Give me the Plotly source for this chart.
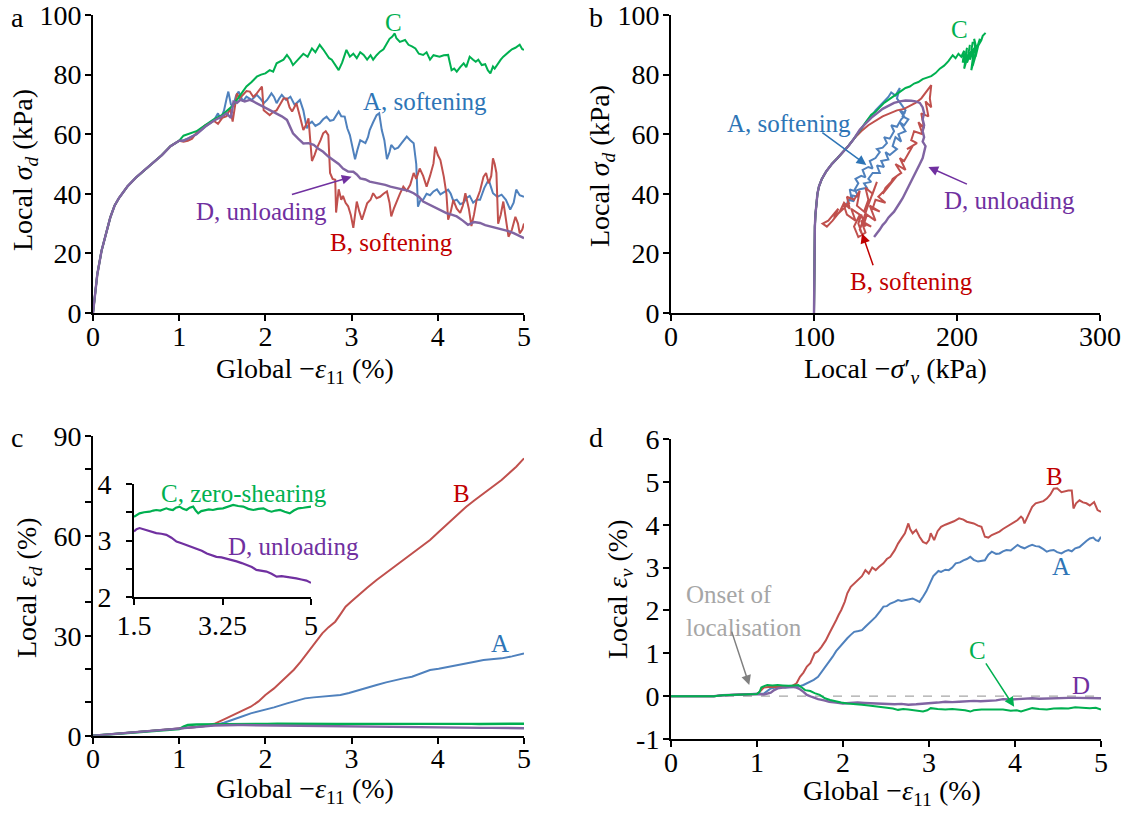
import plotly.graph_objects as go

W, H = 1130, 813
FONT = "Liberation Serif, Times New Roman, serif"

# ---------------- colours ----------------
COL_A, COL_B, COL_C, COL_D = "#4F81BD", "#C0504D", "#00B050", "#8064A2"
TXT_A, TXT_B, TXT_C, TXT_D = "#2E75B6", "#C00000", "#00B050", "#7030A0"
GREY = "#A6A6A6"

# ---------------- panel a : local sigma_d vs global strain ----------------
a_common_x = [0, 0.02, 0.05, 0.1, 0.15, 0.2, 0.25, 0.3, 0.4, 0.5, 0.6, 0.7, 0.8, 0.9, 1.0]
a_common_y = [0, 6, 13, 21, 27, 32, 36, 38.5, 42.5, 45.5, 48, 50.5, 53, 56, 57.8]

aA_x = [1.05,1.1,1.2,1.3,1.4,1.45,1.48,1.52,1.55,1.57,1.6,1.63,1.66,1.69,1.74,1.78,1.84,1.9,1.94,1.98,2.02,2.07,2.1,2.13,2.16,2.19,2.24,2.29,2.34,2.37,2.4,2.44,2.48,2.51,2.54,2.58,2.63,2.67,2.71,2.75,2.79,2.85,2.88,2.92,2.95,2.98,3.01,3.04,3.07,3.1,3.13,3.16,3.19,3.21,3.25,3.29,3.32,3.35,3.38,3.41,3.44,3.46,3.5,3.54,3.58,3.64,3.68,3.72,3.75,3.77,3.8,3.83,3.87,3.91,3.95,3.99,4.03,4.07,4.12,4.15,4.18,4.22,4.26,4.3,4.33,4.37,4.41,4.45,4.49,4.54,4.59,4.62,4.64,4.69,4.74,4.79,4.84,4.88,4.91,4.95,5.0]
aA_y = [58,58.5,60,62.5,64.5,67,65,68,72,74.3,70,69.8,73,74.3,71,72.6,71.5,73.2,72,70.4,71.5,73.7,72.5,70.4,72,73.2,71.5,72.6,69.8,70.5,71.5,68,62,63.5,64.2,62.8,63.6,65,65.9,64.5,64.8,67.6,66,65.9,62,59.7,55,51.6,55,58,57.5,57,59,61.4,64,66.4,67,61.4,58,51.6,54,56.4,55,55.5,57,59.2,58,57,50,35.7,38,38,40,39.5,40.8,41.5,39.8,40.5,41.4,40,37.6,38,36.5,37,38.5,39.3,37,38,38,42,44.7,42,40.2,39,39.7,38,34.7,37,41.4,39.5,39]

aB_x = [1.05,1.1,1.15,1.2,1.3,1.4,1.45,1.5,1.55,1.59,1.62,1.65,1.67,1.7,1.74,1.78,1.82,1.86,1.9,1.94,1.96,1.98,2.02,2.05,2.09,2.13,2.17,2.21,2.25,2.28,2.31,2.36,2.4,2.44,2.47,2.5,2.52,2.54,2.57,2.6,2.64,2.67,2.7,2.73,2.75,2.78,2.81,2.82,2.85,2.88,2.9,2.93,2.96,2.99,3.02,3.04,3.06,3.09,3.12,3.15,3.18,3.22,3.25,3.29,3.33,3.37,3.41,3.44,3.46,3.49,3.52,3.56,3.6,3.64,3.68,3.72,3.75,3.79,3.83,3.87,3.91,3.95,3.97,4.0,4.03,4.07,4.1,4.12,4.15,4.18,4.22,4.26,4.29,4.32,4.36,4.39,4.42,4.45,4.49,4.53,4.56,4.59,4.62,4.64,4.66,4.68,4.7,4.73,4.76,4.79,4.82,4.86,4.9,4.93,4.95,4.98,5.0]
aB_y = [57.5,57.8,58.5,60.5,63,64.5,63.5,65.5,66,68.7,64.2,70,73.7,72,73.2,74.5,74.3,72.5,73.7,75.5,76,68,67,66.4,67.5,68,70,72,72,69,67.6,70.4,66,61.4,63,65.3,58,51,53,55.5,58,60.3,61,59.7,47,45,44.7,33.7,41.5,38,39.3,37,35.8,33,28.6,33,37.4,34,31.3,34,36.8,38,40.2,38.5,39,40,40.8,37,32.4,35,37.4,40,42.4,41,43,47,45,48.5,46,42.4,46,50.2,55.8,53,51.3,45.7,40,31.3,34,37.9,35,33.6,36,40.2,35,29.2,33,37.9,41,45.7,47,43.5,46,51.9,50,47,30,33,37.4,32,25.6,28,32.3,30,26.7,28,30]

aC_x = [1.05,1.1,1.2,1.3,1.4,1.5,1.6,1.67,1.72,1.78,1.84,1.9,1.95,2.0,2.05,2.09,2.13,2.17,2.21,2.25,2.29,2.32,2.36,2.4,2.44,2.49,2.54,2.58,2.63,2.67,2.71,2.74,2.77,2.81,2.85,2.89,2.94,2.98,3.02,3.06,3.1,3.14,3.18,3.22,3.25,3.29,3.33,3.37,3.41,3.44,3.47,3.5,3.52,3.56,3.62,3.66,3.7,3.74,3.78,3.83,3.87,3.91,3.95,4.02,4.07,4.12,4.14,4.16,4.19,4.22,4.26,4.3,4.33,4.37,4.41,4.44,4.47,4.51,4.55,4.58,4.61,4.64,4.66,4.7,4.73,4.76,4.8,4.83,4.86,4.9,4.95,4.98,5.0]
aC_y = [59.5,60,61,63,65,66.5,69,71.5,73.5,76,77.5,79.3,80,80.4,81.5,81,83.8,84.5,85,86.6,85,83.2,84.5,85.5,87,86,88.8,87.5,90,88.5,86.6,85.5,85,83,81.5,84,88.3,86,87,85.5,87.5,86.6,85,86.5,85,86.5,87.7,88.5,90.5,92,92.7,93.8,92.2,91,91.6,90,89.5,88.8,87,86.6,87.5,85,86.5,86,86.5,86.6,84,81.5,82,81,82.5,83.8,82.5,86,85,84.3,85,83.2,83.5,81.5,80.4,82.7,82,84,85,86,87,87.7,88.5,89,90,88.5,88.3]

aD_x = [1.05,1.1,1.2,1.3,1.4,1.5,1.55,1.6,1.63,1.67,1.71,1.76,1.82,1.86,1.9,1.95,2.0,2.06,2.13,2.19,2.25,2.29,2.32,2.38,2.44,2.5,2.56,2.62,2.67,2.73,2.79,2.85,2.9,2.96,3.02,3.06,3.1,3.16,3.21,3.27,3.33,3.39,3.45,3.52,3.6,3.66,3.72,3.78,3.83,3.89,3.95,4.02,4.1,4.16,4.22,4.29,4.35,4.42,4.49,4.55,4.61,4.68,4.76,4.82,4.88,4.94,5.0]
aD_y = [57.8,58.5,60,62.5,64.5,66,67,65.5,70.9,70.5,71.5,71,71.5,71,70.4,69.5,68.7,68,67,66,64.8,62.5,60.3,58.5,56.9,57,56.4,55,54.1,52.5,51.3,50,48.5,47.5,47.4,46.5,45.2,44.8,44.1,43.8,43.5,43,42.4,42,41.3,41,40.2,39,37.4,36.5,35.7,34.5,33.5,33,32.4,31,29.6,30.5,30.2,29.5,29.1,28.5,27.9,27.5,26.8,26,25.1]

# ---------------- panel b : sigma_d vs local sigma'_v ----------------
b_common_x = [100.0,100.1,100.2,100.3,100.4,100.6,101.0,101.6,102.4,103.5,105.5,108.5,112.5,116.5,120.5,124.5,128.0]
b_common_y = [0,8,15,20,25,29,33,36.5,40,42.5,45,47.5,50,52,54,56.3,58.5]

bA_x = [131,134,137,140,143,146,149,152,154,157,160,158,161,164,162,166,163,160,164,159,161,157,155,158,153,150,152,147,149,144,146,141,138,140,135,137,132,129,131,126,128,124,123,126,125,128,131,129,133,136,134,138,141,139,143,146,144,148,151,149,153,156,154,158,161,163,160,164]
bA_y = [60.5,62.5,64.5,66,68,69.5,71,72.5,74,73,75.5,72,70,68,66,65,63,64,61,60,57.5,59,56,55,53,54,51.5,51,49,49.5,47,47,45,44,43.5,42,41.5,41,39,39.5,37.5,38,36.5,39,41.5,41,43.5,45,46,45.5,48,49,48.5,51,52,54,55,55.5,57,59,58.5,61,63,62.5,65,66,68,67]

bB_x = [133,138,143,148,153,158,163,167,171,175,178,180,182,181,182,178,180,175,177,173,176,170,168,172,165,169,163,160,164,157,161,155,153,158,150,148,153,145,150,143,141,146,139,143,137,135,140,133,136,131,128,132,126,129,123,121,125,118,114,117,110,106,109,113,118,121,125,123,128,132,130,135,138,136,141,144,140,137,135,132,134,131,133,136]
bB_y = [61,63,64.5,66,67,68,68.5,69.5,70.5,72,74,75,76.5,72,69,71,66,67,62,64,60,61,58,57,55,56,51,52,48,50,47,45,43,46,42,40,43,39,37,38,35,34,36,31,33,30,29,31,27,25.5,29,33,35,31,33,36,37,34,32,35,31,30,29,31,34,37,35,39,38,41,36,34,38,42,40,44,39,35,32,28,26,30,33,29]

bC_x = [131,134,137,140,143,146,149,152,155,158,161,164,167,170,173,176,179,182,185,188,191,194,197,199,201,203,205,204,206,207,205,208,209,207,210,211,209,212,210,213,212,214,211,215,213,216,214,217,218,220]
bC_y = [60.5,62.5,64.5,66.5,67.5,69,70.5,71.5,72.5,73.5,74.5,75.5,76,77,77.5,78.5,79,79.5,80.5,82,83,84.5,86.5,85.5,87,86,88,84,86.5,89,82,87,90,84,88,91,85,89,81.5,87,92,88,83,90,86,92,89,91.5,93,94]

bD_x = [132,136,140,144,148,152,156,160,164,168,171,174,176,177,176,177,176,177,176,178,177,176,174,172,170,168,166,164,162,160,158,156,154,152,150,148,146,144,142]
bD_y = [61.5,63.5,65.5,67,68.5,69.5,70.5,71,71.3,71.2,71,70.5,69,67,65,63,61,59,57.5,56,54,52,50,48,46,44,42.5,40.5,38.5,37,35.5,34,33,32,30.5,29.5,28,26.8,25.5]

# ---------------- panel c : local eps_d ----------------
c_common_x = [0, 0.25, 0.5, 0.75, 1.0]
c_common_y = [0, 0.5, 1.0, 1.5, 2.0]

cA_x = [1.1,1.2,1.3,1.42,1.52,1.62,1.72,1.83,1.92,2.0,2.1,2.25,2.35,2.46,2.56,2.66,2.76,2.87,2.97,3.08,3.18,3.29,3.4,3.5,3.6,3.7,3.8,3.91,4.01,4.12,4.22,4.33,4.43,4.53,4.63,4.74,4.86,5.0]
cA_y = [2.3,2.6,2.9,3.2,3.9,4.7,5.7,6.7,7.3,7.7,8.5,9.7,10.5,11.2,11.5,11.7,12.0,12.2,12.8,13.7,14.4,15.2,16.0,16.7,17.2,17.7,18.6,19.7,20.1,20.7,21.2,21.7,22.2,22.7,23.0,23.2,23.8,24.7]
cB_x = [1.1,1.2,1.3,1.42,1.52,1.62,1.72,1.83,1.92,2.0,2.1,2.25,2.33,2.41,2.48,2.54,2.6,2.66,2.73,2.81,2.87,2.93,3.0,3.08,3.18,3.29,3.4,3.5,3.6,3.7,3.8,3.91,4.01,4.12,4.22,4.33,4.43,4.53,4.63,4.74,4.82,4.91,5.0]
cB_y = [2.3,2.6,2.9,3.7,4.9,6.2,7.4,8.7,10.3,12.2,14.2,17.7,19.8,22.2,24.5,26.7,28.6,30.7,32.5,34.2,36.4,38.7,40.3,42.2,44.4,46.7,48.8,50.7,52.7,54.7,56.6,58.7,61.1,63.7,66.2,68.7,70.7,72.7,74.6,76.7,78.6,80.7,83.2]
cC_pre_x = [1.05, 1.1, 1.2, 1.3, 1.4]
cC_pre_y = [2.7, 3.2, 3.35, 3.4, 3.42]
cD_pre_x = [1.1, 1.2, 1.3, 1.4]
cD_pre_y = [2.2, 2.5, 2.8, 3.05]

# inset (zoom of C and D, 1.5-5 %)
iC_x = [1.5,1.55,1.61,1.7,1.81,1.88,1.94,2.02,2.14,2.2,2.27,2.33,2.4,2.47,2.54,2.6,2.67,2.72,2.77,2.83,2.9,2.98,3.06,3.15,3.26,3.36,3.46,3.56,3.66,3.76,3.86,3.96,4.06,4.14,4.22,4.3,4.39,4.48,4.58,4.66,4.75,4.85,4.92,5.0]
iC_y = [3.42,3.45,3.48,3.5,3.51,3.53,3.54,3.53,3.57,3.55,3.54,3.58,3.6,3.56,3.54,3.58,3.6,3.53,3.48,3.52,3.54,3.55,3.54,3.56,3.57,3.6,3.63,3.61,3.6,3.56,3.54,3.56,3.57,3.53,3.51,3.53,3.54,3.51,3.48,3.53,3.57,3.58,3.59,3.6]
iD_x = [1.5,1.55,1.61,1.68,1.74,1.82,1.94,2.04,2.14,2.24,2.34,2.44,2.54,2.64,2.74,2.84,2.94,3.04,3.13,3.23,3.33,3.43,3.53,3.63,3.73,3.83,3.92,4.02,4.12,4.22,4.32,4.42,4.52,4.62,4.71,4.81,4.91,5.0]
iD_y = [3.16,3.2,3.22,3.2,3.19,3.16,3.13,3.12,3.1,3.05,2.98,2.95,2.92,2.89,2.86,2.82,2.77,2.74,2.71,2.7,2.68,2.66,2.63,2.6,2.57,2.53,2.48,2.47,2.45,2.41,2.36,2.37,2.36,2.34,2.33,2.31,2.29,2.25]

# ---------------- panel d : local eps_v ----------------
d_common_x = [0, 0.5, 0.6, 0.8, 0.9, 1.0]
d_common_y = [0, 0, 0.02, 0.04, 0.05, 0.05]

dA_x = [1.08,1.16,1.25,1.33,1.41,1.48,1.54,1.58,1.62,1.66,1.71,1.75,1.79,1.84,1.88,1.92,1.96,2.0,2.05,2.09,2.13,2.18,2.22,2.26,2.3,2.34,2.38,2.43,2.47,2.51,2.55,2.6,2.64,2.68,2.72,2.76,2.81,2.85,2.89,2.93,2.97,3.02,3.05,3.08,3.11,3.14,3.19,3.23,3.27,3.31,3.36,3.4,3.44,3.48,3.52,3.57,3.61,3.65,3.69,3.73,3.78,3.82,3.86,3.9,3.95,3.99,4.03,4.07,4.11,4.16,4.2,4.24,4.28,4.33,4.37,4.41,4.45,4.49,4.54,4.58,4.62,4.66,4.7,4.75,4.79,4.83,4.87,4.91,4.94,4.97,5.0]
dA_y = [0.06,0.18,0.22,0.2,0.22,0.22,0.26,0.3,0.34,0.38,0.45,0.56,0.69,0.8,0.92,1.05,1.15,1.25,1.35,1.43,1.5,1.52,1.54,1.62,1.7,1.78,1.85,1.98,2.09,2.1,2.16,2.2,2.24,2.22,2.24,2.26,2.28,2.24,2.2,2.32,2.45,2.67,2.8,2.86,2.92,2.9,2.95,2.94,3.0,3.1,3.12,3.17,3.2,3.25,3.18,3.14,3.16,3.17,3.3,3.37,3.32,3.33,3.38,3.41,3.4,3.47,3.53,3.48,3.45,3.5,3.53,3.5,3.49,3.43,3.37,3.4,3.41,3.36,3.33,3.38,3.41,3.38,3.45,3.48,3.56,3.62,3.68,3.7,3.64,3.62,3.72]
dB_x = [1.04,1.08,1.16,1.24,1.33,1.41,1.46,1.5,1.54,1.58,1.62,1.67,1.71,1.75,1.8,1.84,1.88,1.92,1.95,1.98,2.02,2.05,2.09,2.13,2.17,2.22,2.26,2.3,2.34,2.38,2.42,2.47,2.51,2.55,2.6,2.64,2.68,2.72,2.76,2.78,2.81,2.85,2.89,2.93,2.97,3.0,3.02,3.06,3.1,3.14,3.19,3.23,3.29,3.35,3.4,3.44,3.48,3.52,3.57,3.61,3.65,3.69,3.73,3.78,3.82,3.86,3.9,3.95,3.99,4.03,4.07,4.09,4.11,4.15,4.2,4.24,4.28,4.33,4.37,4.41,4.45,4.49,4.54,4.58,4.62,4.66,4.67,4.68,4.71,4.75,4.79,4.83,4.87,4.92,4.96,5.0]
dB_y = [0.12,0.2,0.22,0.22,0.21,0.24,0.3,0.45,0.55,0.69,0.77,1.0,1.05,1.15,1.3,1.46,1.6,1.77,1.9,2.01,2.2,2.4,2.55,2.62,2.71,2.8,2.94,2.86,3.0,2.94,3.02,3.1,3.2,3.25,3.4,3.56,3.68,3.8,4.03,3.9,3.8,3.88,3.72,3.6,3.56,3.64,3.8,3.64,3.85,3.95,4.0,4.03,4.08,4.15,4.12,4.07,4.05,4.03,3.98,3.95,3.72,3.7,3.76,3.8,3.84,3.9,3.95,4.0,4.05,4.11,4.19,4.15,4.03,4.2,4.42,4.5,4.53,4.55,4.61,4.7,4.84,4.85,4.76,4.78,4.8,4.8,4.6,4.38,4.5,4.57,4.52,4.5,4.45,4.53,4.34,4.3]
dC_x = [1.03,1.05,1.09,1.12,1.18,1.24,1.3,1.37,1.43,1.48,1.52,1.56,1.62,1.67,1.73,1.79,1.85,1.92,1.98,2.05,2.13,2.22,2.3,2.38,2.45,2.51,2.58,2.64,2.7,2.76,2.84,2.93,2.98,3.02,3.1,3.19,3.27,3.35,3.42,3.48,3.52,3.61,3.7,3.78,3.86,3.95,4.02,4.07,4.13,4.2,4.28,4.37,4.45,4.54,4.62,4.7,4.78,4.87,4.94,5.0]
dC_y = [0.1,0.2,0.24,0.26,0.25,0.26,0.25,0.24,0.25,0.26,0.2,0.14,0.12,0.07,0.03,-0.05,-0.09,-0.13,-0.15,-0.17,-0.18,-0.2,-0.22,-0.24,-0.25,-0.28,-0.29,-0.32,-0.3,-0.31,-0.33,-0.36,-0.33,-0.28,-0.3,-0.31,-0.3,-0.31,-0.33,-0.36,-0.33,-0.31,-0.31,-0.32,-0.31,-0.34,-0.33,-0.36,-0.32,-0.28,-0.3,-0.31,-0.29,-0.28,-0.29,-0.26,-0.27,-0.28,-0.27,-0.31]
dD_x = [1.08,1.16,1.2,1.24,1.3,1.36,1.41,1.46,1.5,1.54,1.58,1.64,1.71,1.78,1.84,1.92,2.0,2.08,2.17,2.25,2.34,2.42,2.51,2.6,2.68,2.76,2.85,2.93,3.02,3.1,3.19,3.27,3.35,3.44,3.52,3.6,3.69,3.78,3.86,3.95,4.03,4.12,4.2,4.28,4.37,4.5,4.62,4.72,4.83,4.92,5.0]
dD_y = [0.04,0.08,0.14,0.18,0.2,0.21,0.22,0.2,0.16,0.1,0.03,-0.02,-0.07,-0.1,-0.13,-0.15,-0.17,-0.16,-0.15,-0.16,-0.17,-0.18,-0.18,-0.19,-0.18,-0.2,-0.19,-0.18,-0.17,-0.15,-0.13,-0.14,-0.13,-0.12,-0.11,-0.12,-0.11,-0.1,-0.07,-0.08,-0.07,-0.06,-0.05,-0.06,-0.05,-0.05,-0.04,-0.04,-0.04,-0.05,-0.05]
zero_x = [0, 5]
zero_y = [0, 0]

# ---------------- figure ----------------
fig = go.Figure()

def line(x, y, color, xa, ya, width=2.0, dash=None):
    fig.add_trace(go.Scatter(x=x, y=y, mode="lines", xaxis=xa, yaxis=ya,
                             line=dict(color=color, width=width, dash=dash),
                             showlegend=False, hoverinfo="skip"))

# panel a
line(a_common_x + aA_x, a_common_y + aA_y, COL_A, "x", "y")
line(a_common_x + aB_x, a_common_y + aB_y, COL_B, "x", "y")
line(a_common_x + aC_x, a_common_y + aC_y, COL_C, "x", "y")
line(a_common_x + aD_x, a_common_y + aD_y, COL_D, "x", "y", 2.4)
# panel b
line(b_common_x + bA_x, b_common_y + bA_y, COL_A, "x2", "y2")
line(b_common_x + bB_x, b_common_y + bB_y, COL_B, "x2", "y2")
line(b_common_x + bC_x, b_common_y + bC_y, COL_C, "x2", "y2")
line(b_common_x + bD_x, b_common_y + bD_y, COL_D, "x2", "y2", 2.4)
# panel c
line(c_common_x + cA_x, c_common_y + cA_y, COL_A, "x3", "y3")
line(c_common_x + cB_x, c_common_y + cB_y, COL_B, "x3", "y3")
line(c_common_x + cC_pre_x + iC_x, c_common_y + cC_pre_y + iC_y, COL_C, "x3", "y3", 2.4)
line(c_common_x + cD_pre_x + iD_x, c_common_y + cD_pre_y + iD_y, COL_D, "x3", "y3", 2.4)
# inset
line(iC_x, iC_y, COL_C, "x5", "y5", 2.2)
line(iD_x, iD_y, TXT_D, "x5", "y5", 2.2)
# panel d
line(zero_x, zero_y, GREY, "x4", "y4", 1.2, "dash")
line(d_common_x + dA_x, d_common_y + dA_y, COL_A, "x4", "y4")
line(d_common_x + dB_x, d_common_y + dB_y, COL_B, "x4", "y4")
line(d_common_x + dD_x, d_common_y + dD_y, COL_D, "x4", "y4", 2.4)
line(d_common_x + dC_x, d_common_y + dC_y, COL_C, "x4", "y4")

TICKFONT = dict(family=FONT, size=28, color="black")

def axis(domain, rng, anchor, horiz, **kw):
    d = dict(domain=domain, range=rng, anchor=anchor, showline=True, linecolor="black",
             linewidth=2, ticks="outside", ticklen=6, tickwidth=2, tickcolor="black",
             showgrid=False, zeroline=False, tickfont=TICKFONT, fixedrange=True,
             automargin=False, ticklabeloverflow="allow",
             ticklabelstandoff=(-9 if horiz else -2))
    d.update(kw)
    return d

def px_x(p):
    return p / W

def px_y(p):
    return 1 - p / H

xa = [px_x(93), px_x(524)]
xb = [px_x(671), px_x(1100)]
ytop = [px_y(313), px_y(15)]
yc = [px_y(735.7), px_y(435.7)]
yd = [px_y(739), px_y(439)]

fig.update_layout(
    width=W, height=H, autosize=False,
    margin=dict(l=0, r=0, t=0, b=0, pad=0, autoexpand=False),
    paper_bgcolor="white", plot_bgcolor="rgba(0,0,0,0)",
    xaxis=axis(xa, [0, 5], "y", True, dtick=1),
    yaxis=axis(ytop, [0, 100], "x", False, dtick=20),
    xaxis2=axis(xb, [0, 300], "y2", True, dtick=100),
    yaxis2=axis(ytop, [0, 100], "x2", False, dtick=20),
    xaxis3=axis(xa, [0, 5], "y3", True, dtick=1),
    yaxis3=axis(yc, [0, 90], "x3", False, tickvals=[0, 30, 60, 90],
                minor=dict(dtick=10, ticks="outside", ticklen=6, tickwidth=2, tickcolor="black")),
    xaxis4=axis([px_x(671), px_x(1101)], [0, 5], "y4", True, dtick=1),
    yaxis4=axis(yd, [-1, 6], "x4", False, tickvals=[-1, 0, 1, 2, 3, 4, 5, 6],
                ticktext=["-1", "0", "1", "2", "3", "4", "5", "6"]),
    xaxis5=axis([px_x(134), px_x(311)], [1.5, 5], "y5", True, tickvals=[1.5, 3.25, 5],
                ticktext=["1.5", "3.25", "5"], ticklabelstandoff=-4),
    yaxis5=axis([px_y(597), px_y(484)], [2, 4], "x5", False, tickvals=[2, 2.5, 3, 3.5, 4],
                ticktext=["2", "", "3", "", "4"], ticklabelstandoff=9),
)

ann = []

def txt(x, y, s, color, xref, yref, size=25, **kw):
    d = dict(x=x, y=y, text=s, xref=xref, yref=yref, showarrow=False,
             font=dict(family=FONT, size=size, color=color), xanchor="center", yanchor="middle")
    d.update(kw)
    ann.append(d)

def arrow(hx, hy, tx, ty, color, xref, yref, width=1.5):
    ann.append(dict(x=hx, y=hy, ax=tx, ay=ty, xref=xref, yref=yref, axref=xref, ayref=yref,
                    text="", showarrow=True, arrowhead=2, arrowsize=1.3, arrowwidth=width,
                    arrowcolor=color, font=dict(size=10)))

# panel letters
for s, (px, py) in zip("abcd", [(17, 17), (596, 17), (17, 437), (596, 437)]):
    txt(px_x(px), px_y(py), s, "black", "paper", "paper", size=28)

# axis titles
TS = 28
XT = "Global \u2212<i>\u03b5</i><sub>11</sub> (%)"
txt(px_x(305), px_y(370), XT, "black", "paper", "paper", size=TS)
txt(px_x(305), px_y(790), XT, "black", "paper", "paper", size=TS)
txt(px_x(892), px_y(792), XT, "black", "paper", "paper", size=TS)
txt(px_x(895), px_y(370), "Local \u2212<i>\u03c3</i>\u2032<sub><i>v</i></sub> (kPa)", "black", "paper", "paper", size=TS)
txt(px_x(24), px_y(170), "Local <i>\u03c3</i><sub><i>d</i></sub> (kPa)", "black", "paper", "paper", size=TS, textangle=-90)
txt(px_x(601), px_y(166), "Local <i>\u03c3</i><sub><i>d</i></sub> (kPa)", "black", "paper", "paper", size=TS, textangle=-90)
txt(px_x(28), px_y(588), "Local <i>\u03b5</i><sub><i>d</i></sub> (%)", "black", "paper", "paper", size=TS, textangle=-90)
txt(px_x(619), px_y(590), "Local <i>\u03b5</i><sub><i>v</i></sub> (%)", "black", "paper", "paper", size=TS, textangle=-90)

# panel a labels
txt(3.49, 97.5, "C", TXT_C, "x", "y")
txt(3.85, 71.0, "A, softening", TXT_A, "x", "y")
txt(3.46, 23.5, "B, softening", TXT_B, "x", "y")
txt(1.96, 34.0, "D, unloading", TXT_D, "x", "y")
arrow(3.0, 45.7, 2.29, 39.6, TXT_D, "x", "y")

# panel b labels
txt(201.6, 95.0, "C", TXT_C, "x2", "y2")
txt(82.5, 63.7, "A, softening", TXT_A, "x2", "y2")
txt(236.6, 37.6, "D, unloading", TXT_D, "x2", "y2")
txt(168.5, 10.5, "B, softening", TXT_B, "x2", "y2")
arrow(136.6, 49.7, 104.8, 60.9, TXT_A, "x2", "y2")
arrow(133.6, 26.7, 141.7, 15.5, TXT_B, "x2", "y2")
arrow(180.0, 49.0, 208.0, 43.0, TXT_D, "x2", "y2")

# panel c labels
txt(4.28, 72.7, "B", TXT_B, "x3", "y3")
txt(4.72, 27.7, "A", TXT_A, "x3", "y3")
txt(3.675, 3.835, "C, zero-shearing", TXT_C, "x5", "y5")
txt(4.66, 2.89, "D, unloading", TXT_D, "x5", "y5")

# panel d labels
txt(4.46, 5.12, "B", TXT_B, "x4", "y4")
txt(4.54, 3.02, "A", TXT_A, "x4", "y4")
txt(3.56, 1.06, "C", TXT_C, "x4", "y4")
txt(4.77, 0.24, "D", TXT_D, "x4", "y4")
txt(0.15, 1.98, "Onset of<br>localisation", GREY, "x4", "y4", xanchor="left", align="left")
arrow(3.99, -0.25, 3.65, 0.8, TXT_C, "x4", "y4")
arrow(0.91, 0.26, 0.7, 1.54, "#808080", "x4", "y4")

fig.update_layout(annotations=ann)
fig.write_html("out.html")
